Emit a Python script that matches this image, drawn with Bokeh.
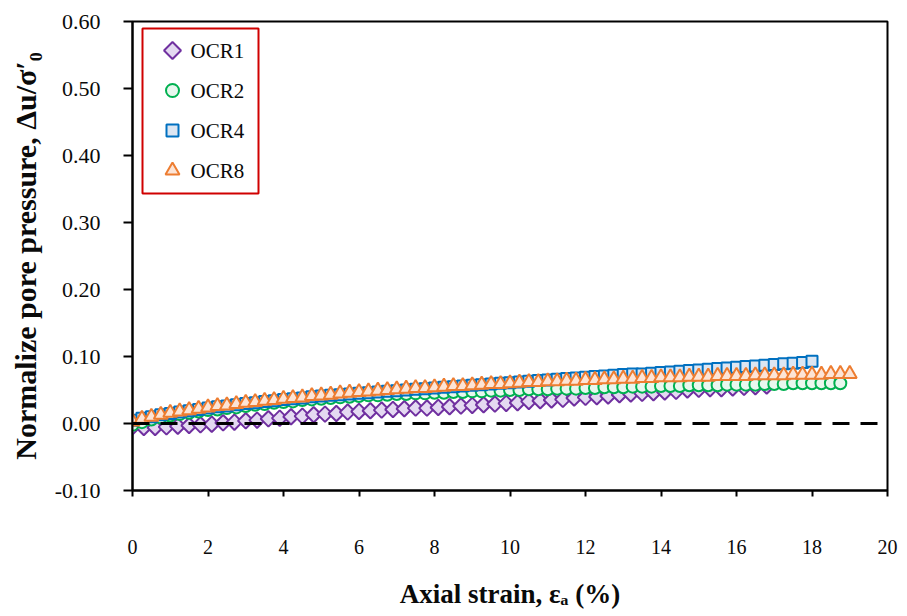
import math
from bokeh.plotting import figure
from bokeh.models import (Range1d, FixedTicker, NumeralTickFormatter, Label,
                          BoxAnnotation, Span)
from bokeh.embed import file_html
from bokeh.resources import INLINE

# ---------------- data ----------------
series_names = ["OCR1", "OCR2", "OCR4", "OCR8"]

strain_ocr1 = [0.0, 0.3, 0.6, 0.9, 1.2, 1.5, 1.8, 2.1, 2.4, 2.7, 3.0, 3.3, 3.6, 3.9,
               4.2, 4.5, 4.8, 5.1, 5.4, 5.7, 6.0, 6.3, 6.6, 6.9, 7.2, 7.5, 7.8, 8.1,
               8.4, 8.7, 9.0, 9.3, 9.6, 9.9, 10.2, 10.5, 10.8, 11.1, 11.4, 11.7, 12.0,
               12.3, 12.6, 12.9, 13.2, 13.5, 13.8, 14.1, 14.4, 14.7, 15.0, 15.3, 15.6,
               15.9, 16.2, 16.5, 16.8]
du_ocr1 = [-0.005, -0.006, -0.006, -0.005, -0.004, -0.003, -0.002, -0.001, 0.001, 0.002,
           0.004, 0.005, 0.007, 0.008, 0.010, 0.011, 0.013, 0.014, 0.015, 0.017, 0.018,
           0.019, 0.020, 0.021, 0.022, 0.023, 0.023, 0.024, 0.025, 0.026, 0.027, 0.028,
           0.029, 0.030, 0.031, 0.033, 0.034, 0.035, 0.036, 0.038, 0.039, 0.040, 0.041,
           0.043, 0.044, 0.045, 0.046, 0.047, 0.048, 0.050, 0.051, 0.052, 0.052, 0.053,
           0.054, 0.055, 0.056]

strain_ocr2 = [0.0, 0.25, 0.5, 0.75, 1.0, 1.25, 1.5, 1.75, 2.0, 2.25, 2.5, 2.75, 3.0, 3.25,
               3.5, 3.75, 4.0, 4.25, 4.5, 4.75, 5.0, 5.25, 5.5, 5.75, 6.0, 6.25, 6.5, 6.75,
               7.0, 7.25, 7.5, 7.75, 8.0, 8.25, 8.5, 8.75, 9.0, 9.25, 9.5, 9.75, 10.0,
               10.25, 10.5, 10.75, 11.0, 11.25, 11.5, 11.75, 12.0, 12.25, 12.5, 12.75,
               13.0, 13.25, 13.5, 13.75, 14.0, 14.25, 14.5, 14.75, 15.0, 15.25, 15.5,
               15.75, 16.0, 16.25, 16.5, 16.75, 17.0, 17.25, 17.5, 17.75, 18.0, 18.25,
               18.5, 18.75]
du_ocr2 = [-0.002, 0.002, 0.006, 0.009, 0.012, 0.014, 0.016, 0.018, 0.020, 0.021, 0.023,
           0.024, 0.026, 0.028, 0.029, 0.031, 0.032, 0.033, 0.035, 0.036, 0.037, 0.038,
           0.039, 0.040, 0.041, 0.042, 0.042, 0.043, 0.044, 0.044, 0.045, 0.045, 0.046,
           0.046, 0.047, 0.047, 0.048, 0.048, 0.049, 0.049, 0.050, 0.050, 0.051, 0.051,
           0.051, 0.052, 0.052, 0.052, 0.053, 0.053, 0.054, 0.054, 0.054, 0.055, 0.055,
           0.055, 0.056, 0.056, 0.056, 0.057, 0.057, 0.057, 0.057, 0.058, 0.058, 0.058,
           0.058, 0.059, 0.059, 0.059, 0.060, 0.060, 0.060, 0.060, 0.060, 0.060]

strain_ocr4 = [0.0, 0.25, 0.5, 0.75, 1.0, 1.25, 1.5, 1.75, 2.0, 2.25, 2.5, 2.75, 3.0, 3.25,
               3.5, 3.75, 4.0, 4.25, 4.5, 4.75, 5.0, 5.25, 5.5, 5.75, 6.0, 6.25, 6.5, 6.75,
               7.0, 7.25, 7.5, 7.75, 8.0, 8.25, 8.5, 8.75, 9.0, 9.25, 9.5, 9.75, 10.0,
               10.25, 10.5, 10.75, 11.0, 11.25, 11.5, 11.75, 12.0, 12.25, 12.5, 12.75,
               13.0, 13.25, 13.5, 13.75, 14.0, 14.25, 14.5, 14.75, 15.0, 15.25, 15.5,
               15.75, 16.0, 16.25, 16.5, 16.75, 17.0, 17.25, 17.5, 17.75, 18.0]
du_ocr4 = [0.005, 0.008, 0.010, 0.013, 0.015, 0.017, 0.019, 0.021, 0.023, 0.025, 0.026,
           0.028, 0.030, 0.031, 0.033, 0.034, 0.036, 0.037, 0.038, 0.040, 0.041, 0.042,
           0.043, 0.044, 0.045, 0.046, 0.047, 0.048, 0.049, 0.050, 0.051, 0.052, 0.053,
           0.054, 0.055, 0.056, 0.057, 0.058, 0.059, 0.060, 0.061, 0.062, 0.063, 0.064,
           0.065, 0.066, 0.067, 0.068, 0.069, 0.070, 0.071, 0.072, 0.073, 0.074, 0.074,
           0.075, 0.076, 0.077, 0.078, 0.079, 0.080, 0.081, 0.082, 0.083, 0.084, 0.085,
           0.086, 0.087, 0.088, 0.089, 0.090, 0.091, 0.093]

strain_ocr8 = [0.0, 0.25, 0.5, 0.75, 1.0, 1.25, 1.5, 1.75, 2.0, 2.25, 2.5, 2.75, 3.0, 3.25,
               3.5, 3.75, 4.0, 4.25, 4.5, 4.75, 5.0, 5.25, 5.5, 5.75, 6.0, 6.25, 6.5, 6.75,
               7.0, 7.25, 7.5, 7.75, 8.0, 8.25, 8.5, 8.75, 9.0, 9.25, 9.5, 9.75, 10.0,
               10.25, 10.5, 10.75, 11.0, 11.25, 11.5, 11.75, 12.0, 12.25, 12.5, 12.75,
               13.0, 13.25, 13.5, 13.75, 14.0, 14.25, 14.5, 14.75, 15.0, 15.25, 15.5,
               15.75, 16.0, 16.25, 16.5, 16.75, 17.0, 17.25, 17.5, 17.75, 18.0, 18.25,
               18.5, 18.75, 19.0]
du_ocr8 = [0.003, 0.007, 0.010, 0.013, 0.016, 0.018, 0.020, 0.022, 0.024, 0.026, 0.027,
           0.029, 0.031, 0.032, 0.034, 0.035, 0.037, 0.038, 0.039, 0.041, 0.042, 0.043,
           0.045, 0.046, 0.047, 0.048, 0.049, 0.050, 0.051, 0.052, 0.053, 0.053, 0.054,
           0.055, 0.056, 0.056, 0.057, 0.058, 0.059, 0.059, 0.060, 0.061, 0.062, 0.062,
           0.063, 0.063, 0.064, 0.064, 0.065, 0.065, 0.066, 0.066, 0.067, 0.067, 0.068,
           0.068, 0.069, 0.069, 0.069, 0.070, 0.070, 0.070, 0.071, 0.071, 0.071, 0.071,
           0.072, 0.072, 0.072, 0.072, 0.073, 0.073, 0.073, 0.073, 0.074, 0.074, 0.074]

x_ticks = [0, 2, 4, 6, 8, 10, 12, 14, 16, 18, 20]
y_ticks = [-0.10, 0.00, 0.10, 0.20, 0.30, 0.40, 0.50, 0.60]
reference_level = 0.0
x_title = "Axial strain, \u03b5\u2090 (%)"
y_title = "Normalize pore pressure, \u0394u/\u03c3\u2032\u2080"

# ---------------- layout ----------------
W, H = 907, 616
FL, FR, FT, FB = 132, 887, 21, 490          # frame edges in canvas pixels
X0, X1, Y0, Y1 = 0.0, 20.0, -0.10, 0.60


def px2x(px):
    return X0 + (px - FL) * (X1 - X0) / (FR - FL)


def py2y(py):
    return Y0 + (FB - py) * (Y1 - Y0) / (FB - FT)


SERIF = "Liberation Serif"
p = figure(width=W, height=H, output_backend="svg", toolbar_location=None,
           x_range=Range1d(X0, X1), y_range=Range1d(Y0, Y1),
           min_border_left=FL, min_border_right=W - FR, min_border_top=FT,
           min_border_bottom=H - FB)
p.background_fill_color = "white"
p.border_fill_color = "white"
p.outline_line_color = "black"
p.outline_line_width = 2
p.xgrid.visible = False
p.ygrid.visible = False

for ax in (p.xaxis, p.yaxis):
    ax.axis_line_width = 2
    ax.axis_line_color = "black"
    ax.major_tick_line_width = 2
    ax.major_tick_line_color = "black"
    ax.minor_tick_line_color = None
    ax.major_tick_in = 0
    ax.major_label_text_font = SERIF
    ax.major_label_text_color = "#0a0a0a"
    ax.axis_label_text_font = SERIF
    ax.axis_label_text_font_style = "bold"
    ax.axis_label_text_color = "#0a0a0a"

p.xaxis.ticker = FixedTicker(ticks=x_ticks)
p.yaxis.ticker = FixedTicker(ticks=y_ticks)
p.yaxis.formatter = NumeralTickFormatter(format="0.00")
p.xaxis.major_tick_out = 6
p.yaxis.major_tick_out = 9
p.xaxis.major_label_text_font_size = "20px"
p.yaxis.major_label_text_font_size = "22px"
p.xaxis.major_label_standoff = 43
p.yaxis.major_label_standoff = 23

p.xaxis.axis_label = x_title
p.xaxis.axis_label_text_font_size = "27px"
p.xaxis.axis_label_standoff = 22
p.yaxis.axis_label = y_title
p.yaxis.axis_label_text_font_size = "30px"
p.yaxis.axis_label_standoff = 10

# series styles
styles = [
    dict(marker="square", angle=math.pi / 4, size=11, line_color="#7030A0", fill_color="#E4D9F1"),
    dict(marker="circle", angle=0.0, size=12, line_color="#00B050", fill_color="#E8F7EE"),
    dict(marker="square", angle=0.0, size=11, line_color="#0070C0", fill_color="#DCE6F2"),
    dict(marker="triangle", angle=0.0, size=14, line_color="#ED7D31", fill_color="#FCE4D6"),
]
data = [(strain_ocr1, du_ocr1), (strain_ocr2, du_ocr2), (strain_ocr4, du_ocr4),
        (strain_ocr8, du_ocr8)]
for (xs, ys), st in zip(data, styles):
    p.scatter(xs, ys, marker=st["marker"], angle=st["angle"], size=st["size"],
              line_color=st["line_color"], fill_color=st["fill_color"], line_width=2)

p.add_layout(Span(location=reference_level, dimension="width", line_color="black",
                  line_width=3, line_dash="17 11"))

# ---------------- legend (drawn by hand so the diamond keeps its shape) -------------
p.add_layout(BoxAnnotation(left=px2x(142), right=px2x(258), top=py2y(28), bottom=py2y(193),
                           fill_alpha=0, line_color="#D00000", line_width=2, line_alpha=1))
row_py = [50, 90, 130, 170]
for name, st, ry in zip(series_names, styles, row_py):
    p.scatter([px2x(172)], [py2y(ry)], marker=st["marker"], angle=st["angle"],
              size=st["size"] + 1 if st["marker"] != "triangle" else st["size"],
              line_color=st["line_color"], fill_color=st["fill_color"], line_width=2,
              level="overlay")
    p.add_layout(Label(text=name, x=px2x(190), y=py2y(ry), text_font=SERIF,
                       text_font_size="21px", text_color="#0a0a0a",
                       text_align="left", text_baseline="middle"))

open("out.html", "w").write(file_html(p, INLINE))
